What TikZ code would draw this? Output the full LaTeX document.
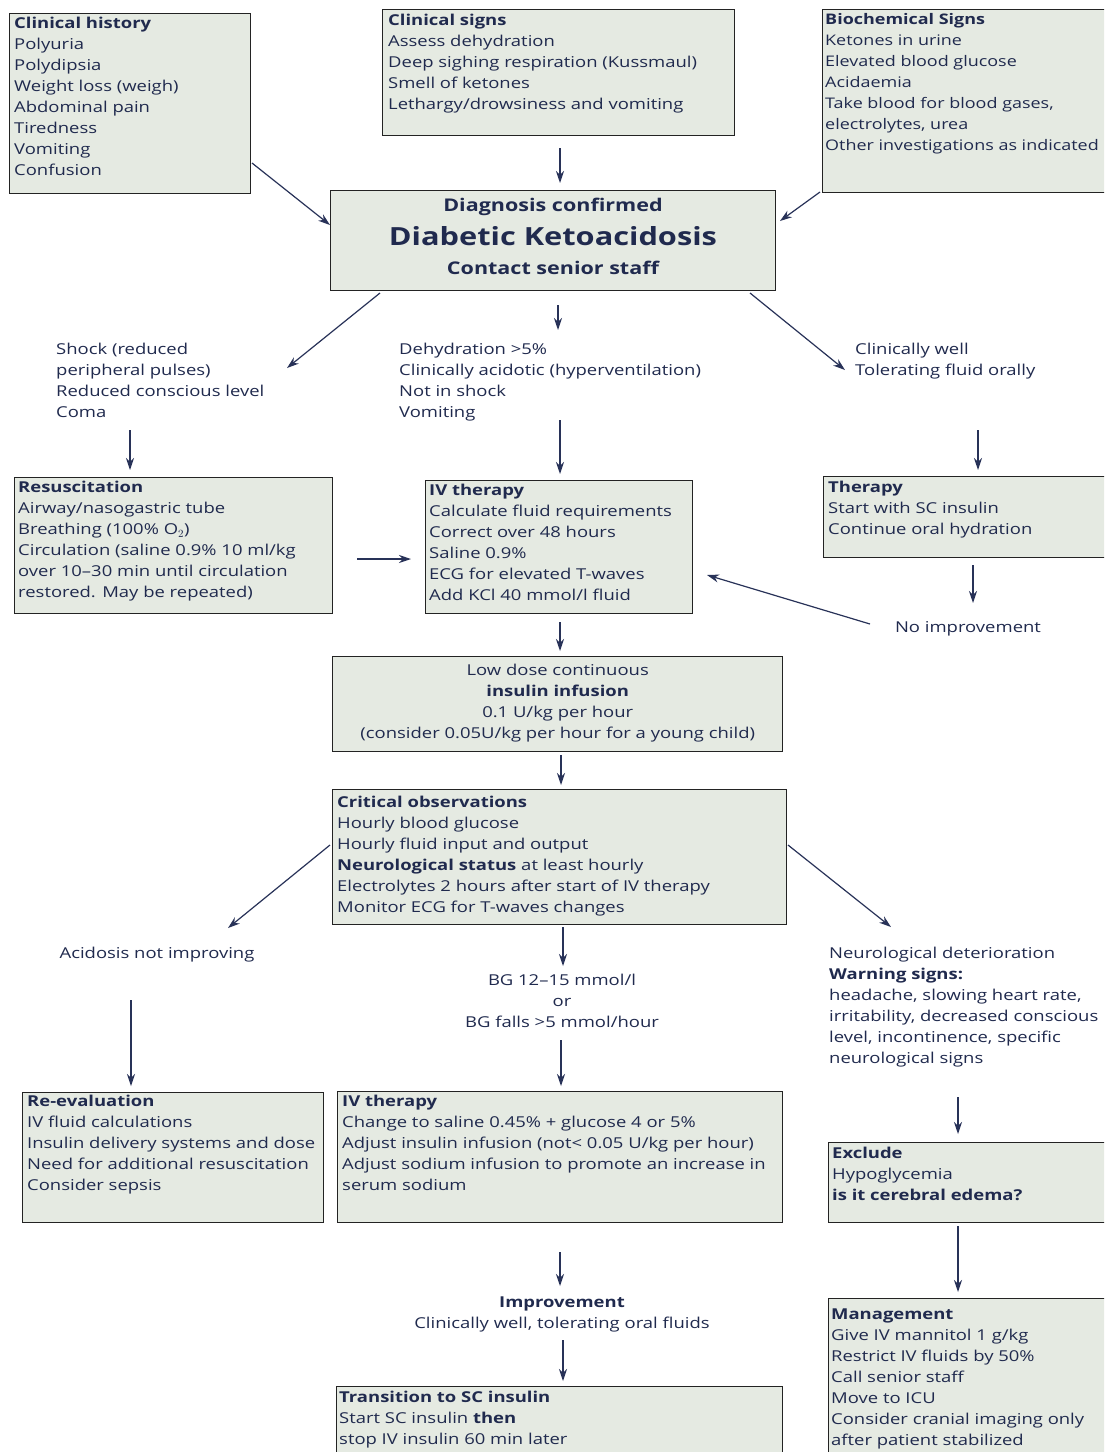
\documentclass[tikz,border=0pt]{standalone}
\usepackage{fontspec}
\setmainfont{Open Sans}[FakeStretch=1.23]
\usetikzlibrary{arrows.meta}
\definecolor{boxfill}{RGB}{229,234,226}
\definecolor{ink}{RGB}{32,42,78}
\definecolor{arrcol}{RGB}{40,50,88}
\definecolor{edge}{RGB}{35,35,35}
\newcommand{\bodyfont}{\fontsize{15}{21}\selectfont}
\tikzset{
  box/.style={draw=edge, line width=1.4pt, fill=boxfill, rectangle, inner sep=0pt, anchor=north west},
  txt/.style={text=ink, font=\bodyfont, inner sep=0pt, align=left, anchor=north west},
  ctxt/.style={text=ink, font=\bodyfont, inner sep=0pt, align=center, anchor=north},
  arr/.style={draw=arrcol, line width=1.2pt, -{Stealth[length=12pt,width=8pt]}}
}
\begin{document}
\begin{tikzpicture}[x=1pt,y=-1pt]
\useasboundingbox (0,0) rectangle (1104,1452);
\clip (0,0) rectangle (1104,1452);
\fill[white] (0,0) rectangle (1104,1452);

% boxes
\node[box, minimum width=241pt, minimum height=180pt] (hist) at (9,13) {};
\node[box, minimum width=352pt, minimum height=126pt] (signs) at (382,9) {};
\node[box, minimum width=290pt, minimum height=183pt] (bio) at (822,9) {};
\node[box, minimum width=445pt, minimum height=100pt] (dka) at (330,190) {};
\node[box, minimum width=318pt, minimum height=136pt] (resus) at (14,477) {};
\node[box, minimum width=267pt, minimum height=133pt] (iv1) at (425,480) {};
\node[box, minimum width=290pt, minimum height=81pt] (ther) at (823,476) {};
\node[box, minimum width=450pt, minimum height=95pt] (insulin) at (332,656) {};
\node[box, minimum width=454pt, minimum height=135pt] (crit) at (332,789) {};
\node[box, minimum width=301pt, minimum height=130pt] (reeval) at (22,1092) {};
\node[box, minimum width=445pt, minimum height=131pt] (iv2) at (337,1091) {};
\node[box, minimum width=285pt, minimum height=80pt] (excl) at (828,1142) {};
\node[box, minimum width=285pt, minimum height=165pt] (mgmt) at (828,1298) {};
\node[box, minimum width=446pt, minimum height=80pt] (trans) at (336,1386) {};

% box texts
\node[txt] (histT) at ([shift={(5,1)}]hist.north west) {\strut\textbf{Clinical history}\\Polyuria\\Polydipsia\\Weight loss (weigh)\\Abdominal pain\\Tiredness\\Vomiting\\Confusion};
\node[txt] (signsT) at ([shift={(6,2)}]signs.north west) {\strut\textbf{Clinical signs}\\Assess dehydration\\Deep sighing respiration (Kussmaul)\\Smell of ketones\\Lethargy/drowsiness and vomiting};
\node[txt, font=\fontsize{14.6}{21}\selectfont] (bioT) at ([shift={(3,1)}]bio.north west) {\strut\textbf{Biochemical Signs}\\Ketones in urine\\Elevated blood glucose\\Acidaemia\\Take blood for blood gases,\\electrolytes, urea\\Other investigations as indicated};
\node[text=ink, inner sep=0pt, anchor=base, font=\fontsize{17.5}{20}\selectfont\bfseries] (dkaA) at ([shift={(223,21.5)}]dka.north west) {Diagnosis confirmed};
\node[text=ink, inner sep=0pt, anchor=base, font=\fontsize{25}{30}\selectfont\bfseries] (dkaB) at ([shift={(223,55.5)}]dka.north west) {Diabetic Ketoacidosis};
\node[text=ink, inner sep=0pt, anchor=base, font=\fontsize{17.5}{20}\selectfont\bfseries] (dkaC) at ([shift={(223,84.5)}]dka.north west) {Contact senior staff};
\node[txt] (resusT) at ([shift={(4,1)}]resus.north west) {\strut\textbf{Resuscitation}\\Airway/nasogastric tube\\Breathing (100\% O$_2$)\\Circulation (saline 0.9\% 10 ml/kg\\over 10--30 min until circulation\\restored. May be repeated)};
\node[txt] (iv1T) at ([shift={(4,1)}]iv1.north west) {\strut\textbf{IV therapy}\\Calculate fluid requirements\\Correct over 48 hours\\Saline 0.9\%\\ECG for elevated T-waves\\Add KCl 40 mmol/l fluid};
\node[txt] (therT) at ([shift={(5,2)}]ther.north west) {\strut\textbf{Therapy}\\Start with SC insulin\\Continue oral hydration};
\node[ctxt] (insulinT) at ([shift={(0,5)}]insulin.north) {\strut Low dose continuous\\\textbf{insulin infusion}\\0.1 U/kg per hour\\(consider 0.05U/kg per hour for a young child)};
\node[txt] (critT) at ([shift={(5,4)}]crit.north west) {\strut\textbf{Critical observations}\\Hourly blood glucose\\Hourly fluid input and output\\\textbf{Neurological status} at least hourly\\Electrolytes 2 hours after start of IV therapy\\Monitor ECG for T-waves changes};
\node[txt] (reevalT) at ([shift={(5,0)}]reeval.north west) {\strut\textbf{Re-evaluation}\\IV fluid calculations\\Insulin delivery systems and dose\\Need for additional resuscitation\\Consider sepsis};
\node[txt] (iv2T) at ([shift={(5,1)}]iv2.north west) {\strut\textbf{IV therapy}\\Change to saline 0.45\% + glucose 4 or 5\%\\Adjust insulin infusion (not< 0.05 U/kg per hour)\\Adjust sodium infusion to promote an increase in\\serum sodium};
\node[txt] (exclT) at ([shift={(4,2)}]excl.north west) {\strut\textbf{Exclude}\\Hypoglycemia\\\textbf{is it cerebral edema?}};
\node[txt] (mgmtT) at ([shift={(3,7)}]mgmt.north west) {\strut\textbf{Management}\\Give IV mannitol 1 g/kg\\Restrict IV fluids by 50\%\\Call senior staff\\Move to ICU\\Consider cranial imaging only\\after patient stabilized};
\node[txt] (transT) at ([shift={(3,2)}]trans.north west) {\strut\textbf{Transition to SC insulin}\\Start SC insulin \textbf{then}\\stop IV insulin 60 min later};

% free labels
\node[txt] (shock) at (56,340) {\strut Shock (reduced\\peripheral pulses)\\Reduced conscious level\\Coma};
\node[txt] (dehyd) at (399,340) {\strut Dehydration >5\%\\Clinically acidotic (hyperventilation)\\Not in shock\\Vomiting};
\node[txt] (well) at (855,340) {\strut Clinically well\\Tolerating fluid orally};
\node[ctxt] (noimp) at (968,618) {\strut No improvement};
\node[ctxt] (acid) at (157,944) {\strut Acidosis not improving};
\node[ctxt] (bg) at (562,971) {\strut BG 12--15 mmol/l\\or\\BG falls >5 mmol/hour};
\node[txt] (neuro) at (829,944) {\strut Neurological deterioration\\\textbf{Warning signs:}\\headache, slowing heart rate,\\irritability, decreased conscious\\level, incontinence, specific\\neurological signs};
\node[ctxt] (improve) at (562,1293) {\strut\textbf{Improvement}\\Clinically well, tolerating oral fluids};

% connectors
\draw[arr] ([shift={(243,150)}]hist.north west) -- ([shift={(0,35)}]dka.north west);
\draw[arr] ([shift={(178,139)}]signs.north west) -- ([shift={(230,-7)}]dka.north west);
\draw[arr] ([shift={(-2,183)}]bio.north west) -- ([shift={(450,31)}]dka.north west);
\draw[arr] ([shift={(50,103)}]dka.north west) -- ([shift={(231,28)}]shock.north west);
\draw[arr] ([shift={(228,115)}]dka.north west) -- ([shift={(159,-10)}]dehyd.north west);
\draw[arr] ([shift={(420,103)}]dka.north west) -- ([shift={(-10,30)}]well.north west);
\draw[arr] ([shift={(74,90)}]shock.north west) -- ([shift={(116,-7)}]resus.north west);
\draw[arr] ([shift={(161,80)}]dehyd.north west) -- ([shift={(135,-6)}]iv1.north west);
\draw[arr] ([shift={(123,90)}]well.north west) -- ([shift={(155,-6)}]ther.north west);
\draw[arr] ([shift={(343,82)}]resus.north west) -- ([shift={(-14,79)}]iv1.north west);
\draw[arr] ([shift={(150,89)}]ther.north west) -- ([shift={(5,-15)}]noimp.north);
\draw[arr] ([shift={(-98,6)}]noimp.north) -- ([shift={(282,95)}]iv1.north west);
\draw[arr] ([shift={(135,142)}]iv1.north west) -- ([shift={(228,-5)}]insulin.north west);
\draw[arr] ([shift={(229,99)}]insulin.north west) -- ([shift={(229,-4)}]crit.north west);
\draw[arr] ([shift={(-2,56)}]crit.north west) -- ([shift={(71,-16)}]acid.north);
\draw[arr] ([shift={(231,138)}]crit.north west) -- ([shift={(1,-5)}]bg.north);
\draw[arr] ([shift={(456,56)}]crit.north west) -- ([shift={(62,-17)}]neuro.north west);
\draw[arr] ([shift={(-26,56)}]acid.north) -- ([shift={(109,-6)}]reeval.north west);
\draw[arr] ([shift={(-1,69)}]bg.north) -- ([shift={(224,-5)}]iv2.north west);
\draw[arr] ([shift={(129,153)}]neuro.north west) -- ([shift={(130,-8)}]excl.north west);
\draw[arr] ([shift={(223,161)}]iv2.north west) -- ([shift={(-2,-7)}]improve.north);
\draw[arr] ([shift={(1,47)}]improve.north) -- ([shift={(227,-5)}]trans.north west);
\draw[arr] ([shift={(130,84)}]excl.north west) -- ([shift={(130,-6)}]mgmt.north west);
\end{tikzpicture}
\end{document}
